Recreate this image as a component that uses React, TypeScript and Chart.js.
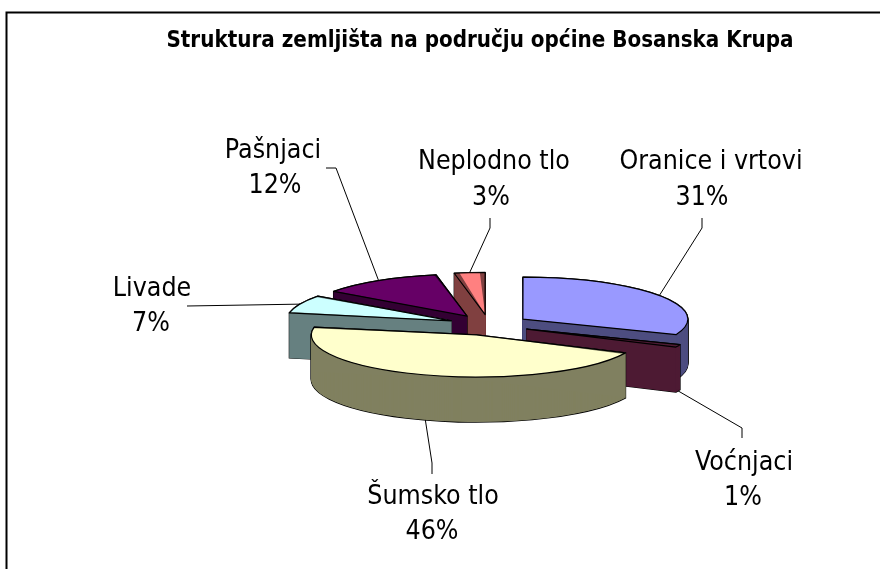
import { useEffect, useRef } from "react";
import { Chart, registerables } from "chart.js";

Chart.register(...registerables);

const TITLE = "Struktura zemljišta na području općine Bosanska Krupa";
const categories = ["Oranice i vrtovi", "Voćnjaci", "Šumsko tlo", "Livade", "Pašnjaci", "Neplodno tlo"];
const shares = [31, 1, 46, 7, 12, 3];
const topColors = ["#9999ff", "#993366", "#ffffcc", "#ccffff", "#660066", "#ff8080"];
const sideColors = ["#4d4d80", "#4d1a33", "#808060", "#668080", "#330033", "#804040"];

// text placement per category: centre x and baseline of the name, then of the percentage
const nameAnchors = [[711, 169], [744, 470], [433, 504], [152, 296], [273, 158], [494, 169]];
const percentAnchors = [[702, 205], [743, 505], [432, 539], [151, 331], [275, 193], [491, 205]];
const leaderElbows = [
  [[702, 218], [702, 228]],
  [[742, 438], [742, 428]],
  [[432, 474], [432, 463]],
  [[187, 306]],
  [[326, 168], [336, 168]],
  [[490, 218], [490, 228]],
];

const SQUASH = 0.255;
const DEPTH = 45;
const OFFSET = 164;
const RADIUS = 165;
const LABEL_FONT = '26.5px "DejaVu Sans Condensed", "DejaVu Sans", sans-serif';
const TITLE_FONT = 'bold 22.2px "DejaVu Sans Condensed", "DejaVu Sans", sans-serif';

function midAngle(el: any) {
  return (el.startAngle + el.endAngle) / 2;
}

// screen position of a point of a slice, at polar (r, angle) around its own apex, dy below the top
function point(el: any, r: number, angle: number, dy: number) {
  const mid = midAngle(el);
  const shift = OFFSET / 4;
  return [
    el.x + Math.cos(mid) * shift + r * Math.cos(angle),
    el.y + SQUASH * (Math.sin(mid) * shift + r * Math.sin(angle)) + dy,
  ];
}

function tracePath(ctx: CanvasRenderingContext2D, el: any, dy: number) {
  const mid = midAngle(el);
  const shift = OFFSET / 4;
  ctx.save();
  ctx.translate(el.x, el.y + dy);
  ctx.scale(1, SQUASH);
  ctx.translate(Math.cos(mid) * shift, Math.sin(mid) * shift);
  ctx.beginPath();
  ctx.moveTo(0, 0);
  ctx.arc(0, 0, RADIUS, el.startAngle, el.endAngle);
  ctx.closePath();
  ctx.restore();
}

function fillPolygon(ctx: CanvasRenderingContext2D, pts: number[][]) {
  ctx.beginPath();
  pts.forEach((p, i) => (i === 0 ? ctx.moveTo(p[0], p[1]) : ctx.lineTo(p[0], p[1])));
  ctx.closePath();
  ctx.fill();
}

function fillWalls(ctx: CanvasRenderingContext2D, el: any) {
  for (let d = DEPTH; d >= 0; d -= 0.5) {
    tracePath(ctx, el, d);
    ctx.fill();
  }
  for (const edge of [el.startAngle, el.endAngle]) {
    fillPolygon(ctx, [
      point(el, 0, edge, 0),
      point(el, RADIUS, edge, 0),
      point(el, RADIUS, edge, DEPTH),
      point(el, 0, edge, DEPTH),
    ]);
  }
}

const pie3d = {
  id: "pie3d",
  afterDatasetsUpdate(chart: any) {
    // the arc element grows its radius with its offset by an angle-dependent amount; cancel it
    chart.getDatasetMeta(0).data.forEach((el: any) => {
      const fix = 1 - Math.sin(Math.min(Math.PI, el.endAngle - el.startAngle));
      el.outerRadius = RADIUS - (OFFSET / 4) * fix;
    });
  },
  beforeDraw(chart: any) {
    const { ctx, width, height } = chart;
    ctx.save();
    ctx.fillStyle = "#fff";
    ctx.fillRect(0, 0, width, height);
    ctx.strokeStyle = "#000";
    ctx.lineWidth = 2;
    ctx.beginPath();
    ctx.moveTo(6.5, height - 3);
    ctx.lineTo(6.5, 12.5);
    ctx.lineTo(width, 12.5);
    ctx.stroke();
    ctx.restore();
  },
  beforeDatasetsDraw(chart: any) {
    const { ctx } = chart;
    const data = chart.getDatasetMeta(0).data;
    const order = [...data.keys()].sort(
      (a: number, b: number) => Math.sin(midAngle(data[a])) - Math.sin(midAngle(data[b]))
    );
    for (const i of order as number[]) {
      const el = data[i];
      ctx.save();
      ctx.strokeStyle = "#000";
      ctx.lineWidth = 1.3;
      ctx.lineJoin = "round";
      for (let d = DEPTH; d >= 0; d -= 1) {
        tracePath(ctx, el, d);
        ctx.stroke();
      }
      ctx.fillStyle = sideColors[i];
      fillWalls(ctx, el);
      ctx.restore();
    }
    // the library draws the slice tops inside this squashed space
    const cy = data[0].y;
    ctx.save();
    ctx.translate(0, cy);
    ctx.scale(1, SQUASH);
    ctx.translate(0, -cy);
  },
  afterDatasetsDraw(chart: any) {
    const { ctx } = chart;
    ctx.restore();
    const meta = chart.getDatasetMeta(0);
    ctx.save();
    ctx.strokeStyle = "#000";
    ctx.lineWidth = 1.2;
    ctx.lineJoin = "round";
    meta.data.forEach((el: any) => {
      tracePath(ctx, el, 0);
      ctx.stroke();
    });
    ctx.restore();

    // leader lines, starting at the middle of each slice's outer arc
    const total = shares.reduce((a, b) => a + b, 0);
    ctx.save();
    ctx.strokeStyle = "#000";
    ctx.lineWidth = 1;
    meta.data.forEach((el: any, i: number) => {
      const mid = midAngle(el);
      const front = Math.sin(mid) > 0 ? DEPTH : 0;
      const [ax, ay] = point(el, RADIUS, mid, front);
      ctx.beginPath();
      ctx.moveTo(ax, ay);
      const elbow = leaderElbows[i];
      for (let k = elbow.length - 1; k >= 0; k -= 1) ctx.lineTo(elbow[k][0], elbow[k][1]);
      ctx.stroke();
    });
    ctx.fillStyle = "#000";
    ctx.textAlign = "center";
    ctx.textBaseline = "alphabetic";
    ctx.font = LABEL_FONT;
    categories.forEach((name, i) => {
      ctx.fillText(name, nameAnchors[i][0], nameAnchors[i][1]);
      ctx.fillText(`${Math.round((shares[i] / total) * 100)}%`, percentAnchors[i][0], percentAnchors[i][1]);
    });
    ctx.font = TITLE_FONT;
    ctx.fillText(TITLE, 480, 47);
    ctx.restore();
  },
};

export default function App() {
  const ref = useRef<HTMLCanvasElement>(null);
  useEffect(() => {
    const chart = new Chart(ref.current as HTMLCanvasElement, {
      type: "pie",
      data: {
        labels: categories,
        datasets: [
          {
            data: shares,
            backgroundColor: topColors,
            borderWidth: 0,
            offset: OFFSET,
            radius: RADIUS,
            clip: false,
          } as any,
        ],
      },
      options: {
        animation: false,
        responsive: false,
        layout: { padding: { left: 98, top: 78 } },
        plugins: { legend: { display: false }, tooltip: { enabled: false }, title: { display: false } },
      },
      plugins: [pie3d],
    } as any);
    return () => chart.destroy();
  }, []);
  return (
    <div style={{ position: "absolute", left: 0, top: 0, width: 880, height: 572 }}>
      <canvas ref={ref} width={880} height={572} style={{ display: "block" }} />
    </div>
  );
}
